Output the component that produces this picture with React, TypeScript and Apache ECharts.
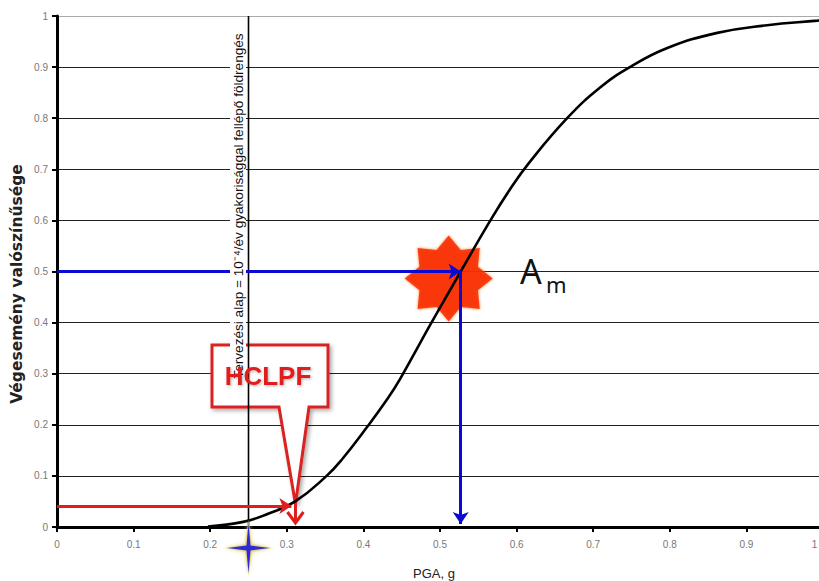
import React, { useEffect, useRef } from "react";
import * as echarts from "echarts";

// ---- data ----
const curveX = [0.197, 0.243, 0.274, 0.311, 0.352, 0.373, 0.405, 0.431, 0.448, 0.487, 0.527, 0.565, 0.591, 0.617, 0.666, 0.709, 0.748, 0.796, 0.862, 0.927, 0.993, 1.0];
const curveY = [0.001, 0.010, 0.025, 0.050, 0.100, 0.134, 0.196, 0.250, 0.290, 0.395, 0.500, 0.598, 0.660, 0.714, 0.800, 0.860, 0.900, 0.937, 0.967, 0.982, 0.991, 0.992];
const designBasisPGA = 0.25;
const medianPGA = 0.527;
const medianProb = 0.5;
const hclpfPGA = 0.31;
const hclpfProb = 0.041;
const hclpfCurveProb = 0.047;
const axisTicks = [0, 0.1, 0.2, 0.3, 0.4, 0.5, 0.6, 0.7, 0.8, 0.9, 1];

const yTitle = "Végesemény valószínűsége";
const xTitle = "PGA, g";
const designText = "Tervezési alap = 10⁻⁴/év gyakorisággal fellépő földrengés";
const calloutText = "HCLPF";

function starPath(n: number, r: number): string {
  let d = "";
  for (let i = 0; i < 2 * n; i++) {
    const a = -Math.PI / 2 + (i * Math.PI) / n;
    const rad = i % 2 === 0 ? 1 : r;
    const x = 1 + rad * Math.cos(a);
    const y = 1 + rad * Math.sin(a);
    d += (i === 0 ? "M" : "L") + x.toFixed(4) + " " + y.toFixed(4) + " ";
  }
  return "path://" + d + "Z";
}

const fmt = (v: number) => (v === 0 ? "0" : String(+v.toFixed(1)));
const fmtX = (v: number) => (v >= 1 ? "{edge|1}" : fmt(v));

export default function App() {
  const ref = useRef<HTMLDivElement>(null);
  useEffect(() => {
    if (!ref.current) return;
    const chart = echarts.init(ref.current, null, { renderer: "svg" });
    const splitColors = axisTicks.map((t) => (t === 1 ? "#aaaaaa" : "#222222"));
    chart.setOption({
      animation: false,
      backgroundColor: "#ffffff",
      grid: { left: 57, top: 16, width: 766, height: 511, containLabel: false, outerBoundsMode: "none" },
      xAxis: {
        type: "value",
        min: 0,
        max: 1,
        interval: 0.1,
        axisLine: { show: true, onZero: false, lineStyle: { color: "#000", width: 3 } },
        axisTick: { show: true, length: 5, lineStyle: { color: "#000", width: 2 } },
        splitLine: { show: false },
        axisLabel: {
          color: "#777",
          fontSize: 10,
          margin: 12,
          fontFamily: "Liberation Sans",
          formatter: fmtX,
          rich: { edge: { color: "#777", fontSize: 10, fontFamily: "Liberation Sans", padding: [0, 17, 0, 0] } },
        },
      },
      yAxis: {
        type: "value",
        min: 0,
        max: 1,
        interval: 0.1,
        axisLine: { show: true, onZero: false, lineStyle: { color: "#000", width: 3 } },
        axisTick: { show: true, length: 5, lineStyle: { color: "#000", width: 2 } },
        splitLine: { show: true, lineStyle: { color: splitColors, width: 1 } },
        axisLabel: { color: "#777", fontSize: 10, margin: 9, fontFamily: "Liberation Sans", formatter: fmt },
      },
      series: [
        {
          type: "scatter",
          z: 1,
          data: [[medianPGA, medianProb]],
          symbol: starPath(8, 0.72),
          symbolSize: [88, 86],
          symbolOffset: [-12, 7],
          itemStyle: { color: "#f81400", shadowColor: "#ff6a00", shadowBlur: 3 },
          silent: true,
        },
        {
          type: "line",
          z: 3,
          data: curveX.map((x, i) => [x, curveY[i]]),
          smooth: 0.45,
          showSymbol: false,
          lineStyle: { color: "#000", width: 2.6 },
        },
        {
          type: "line",
          z: 4,
          data: [[designBasisPGA, 0], [designBasisPGA, 1]],
          showSymbol: false,
          lineStyle: { color: "#000", width: 1.6 },
        },
        {
          type: "lines",
          coordinateSystem: "cartesian2d",
          z: 5,
          symbol: ["none", "arrow"],
          symbolSize: 12,
          lineStyle: { color: "#0a0ad0", width: 3, opacity: 1 },
          data: [
            { coords: [[0, medianProb], [medianPGA, medianProb]] },
            { coords: [[medianPGA, medianProb], [medianPGA, 0.006]] },
          ],
        },
        {
          type: "lines",
          coordinateSystem: "cartesian2d",
          z: 5,
          symbol: ["none", "arrow"],
          symbolSize: 12,
          lineStyle: { color: "#e01c1c", width: 3, opacity: 1 },
          data: [{ coords: [[0, hclpfProb], [hclpfPGA - 0.004, hclpfProb]] }],
        },
        {
          type: "scatter",
          z: 6,
          clip: false,
          data: [[designBasisPGA, 0]],
          symbol: starPath(4, 0.2),
          symbolSize: [48, 56],
          symbolOffset: [0, 21],
          itemStyle: { color: "#e6d680", opacity: 0.85, shadowColor: "#e6d680", shadowBlur: 4 },
          silent: true,
        },
        {
          type: "scatter",
          z: 7,
          clip: false,
          data: [[designBasisPGA, 0]],
          symbol: starPath(4, 0.14),
          symbolSize: [42, 50],
          symbolOffset: [0, 21],
          itemStyle: { color: "#0000ee" },
          silent: true,
        },
      ],
    });

    const tip = chart.convertToPixel({ gridIndex: 0 }, [hclpfPGA, hclpfCurveProb]) as number[];
    const base = chart.convertToPixel({ gridIndex: 0 }, [hclpfPGA, 0]) as number[];
    const tx = tip[0] + 1;
    const ty = tip[1] + 1;
    const bx = base[0] + 1;
    const by = base[1] - 4;

    chart.setOption({
      graphic: [
        {
          type: "polygon",
          z: 2,
          shape: {
            points: [
              [212, 345], [328, 345], [328, 407], [309, 407], [tx, ty], [279, 407], [212, 407],
            ],
          },
          style: {
            fill: "#ffffff",
            stroke: "#da2020",
            lineWidth: 3,
            shadowColor: "rgba(0,0,0,0.35)",
            shadowBlur: 4,
            shadowOffsetX: 2,
            shadowOffsetY: 2,
          },
        },
        {
          type: "polyline",
          z: 7,
          shape: { points: [[tx, ty], [bx, by]] },
          style: { stroke: "#e01c1c", lineWidth: 3, fill: "none" },
        },
        {
          type: "polyline",
          z: 7,
          shape: { points: [[bx - 8, by - 11], [bx, by], [bx + 8, by - 11]] },
          style: { stroke: "#e01c1c", lineWidth: 3, fill: "none" },
        },
        {
          type: "text",
          z: 10,
          x: 238,
          y: 206,
          rotation: Math.PI / 2,
          style: {
            text: designText,
            fontSize: 13.6,
            fontFamily: "Liberation Sans",
            fill: "#111",
            align: "center",
            verticalAlign: "middle",
            backgroundColor: "#ffffff",
            padding: [1, 1],
          },
        },
        {
          type: "text",
          z: 12,
          x: 268,
          y: 376,
          style: {
            text: calloutText,
            fontSize: 26,
            fontWeight: "bold",
            fontFamily: "Liberation Sans",
            fill: "#e01c1c",
            align: "center",
            verticalAlign: "middle",
            textShadowColor: "rgba(0,0,0,0.3)",
            textShadowBlur: 3,
            textShadowOffsetX: 1,
            textShadowOffsetY: 1,
          },
        },
        {
          type: "text",
          z: 10,
          x: 520,
          y: 271,
          style: {
            text: "A",
            fontSize: 34,
            fontFamily: "Noto Sans",
            fill: "#111",
            align: "left",
            verticalAlign: "middle",
          },
        },
        {
          type: "text",
          z: 10,
          x: 546,
          y: 284,
          style: {
            text: "m",
            fontSize: 22,
            fontFamily: "Noto Sans",
            fill: "#111",
            align: "left",
            verticalAlign: "middle",
          },
        },
        {
          type: "text",
          z: 10,
          x: 17,
          y: 284,
          rotation: Math.PI / 2,
          style: {
            text: yTitle,
            fontSize: 15.5,
            fontWeight: "bold",
            fontFamily: "DejaVu Sans",
            fill: "#222",
            align: "center",
            verticalAlign: "middle",
          },
        },
        {
          type: "text",
          z: 10,
          x: 434,
          y: 573,
          style: {
            text: xTitle,
            fontSize: 13,
            fontFamily: "Liberation Sans",
            fill: "#222",
            align: "center",
            verticalAlign: "middle",
          },
        },
      ],
    });

    return () => chart.dispose();
  }, []);
  return (
    <div
      ref={ref}
      style={{ position: "fixed", left: 0, top: 0, width: 819, height: 581, background: "#fff" }}
    />
  );
}
